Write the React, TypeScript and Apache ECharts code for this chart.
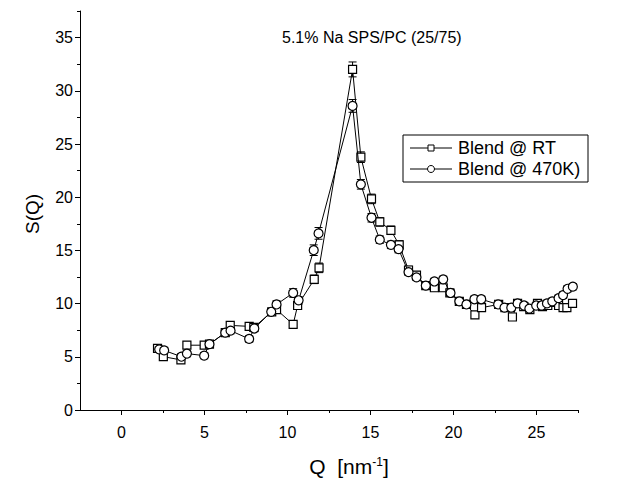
import React, { useEffect, useRef } from "react";
import * as echarts from "echarts";

const titleText = "5.1% Na SPS/PC (25/75)";
const seriesNames = ["Blend @ RT", "Blend @ 470K)"];
const yAxisTitle = "S(Q)";
const xAxisTitle = "{a|Q  [nm}{s|-1}{a|]}";

const xMajorTicks = [0, 5, 10, 15, 20, 25];
const xMinorTicks = [2.5, 7.5, 12.5, 17.5, 22.5, 27.5];
const yMajorTicks = [0, 5, 10, 15, 20, 25, 30, 35];
const yMinorTicks = [2.5, 7.5, 12.5, 17.5, 22.5, 27.5, 32.5, 37.5];

// Blend @ RT (squares)
const qRT = [2.17, 2.52, 3.58, 3.94, 4.98, 5.3, 6.25, 6.55, 7.69, 7.97, 9.05, 9.34, 10.34, 10.61, 11.61, 11.9, 13.92, 14.42, 15.06, 15.56, 16.23, 16.73, 17.29, 17.77, 18.33, 18.85, 19.38, 19.78, 20.35, 20.78, 21.29, 21.69, 22.72, 23.1, 23.55, 23.86, 24.23, 24.6, 25.06, 25.36, 25.68, 26.01, 26.33, 26.6, 26.83, 27.17];
const sRT = [5.79, 5.01, 4.71, 6.09, 6.09, 6.19, 7.27, 7.95, 7.86, 7.76, 9.23, 9.43, 8.05, 9.82, 12.28, 13.36, 32.01, 23.76, 19.84, 17.68, 16.89, 15.52, 13.16, 12.67, 11.69, 11.49, 11.49, 11.0, 10.21, 9.92, 8.94, 9.62, 9.92, 9.62, 8.74, 10.02, 9.72, 9.43, 10.02, 9.72, 9.82, 10.11, 9.82, 9.62, 9.62, 10.02];
const eRT = [0.3, 0.3, 0.3, 0.3, 0.3, 0.3, 0.3, 0.3, 0.3, 0.3, 0.3, 0.3, 0.3, 0.35, 0.4, 0.45, 0.7, 0.5, 0.45, 0.4, 0.4, 0.4, 0.35, 0.3, 0.3, 0.3, 0.3, 0.3, 0.3, 0.3, 0.3, 0.3, 0.3, 0.3, 0.3, 0.3, 0.3, 0.3, 0.3, 0.3, 0.3, 0.3, 0.3, 0.3, 0.3, 0.3];

// Blend @ 470K) (circles)
const qHT = [2.27, 2.57, 3.61, 3.94, 4.98, 5.3, 6.25, 6.57, 7.69, 8.0, 9.02, 9.34, 10.34, 10.67, 11.58, 11.87, 13.92, 14.42, 15.06, 15.56, 16.23, 16.69, 17.29, 17.77, 18.33, 18.85, 19.38, 19.82, 20.35, 20.78, 21.26, 21.67, 22.69, 23.07, 23.48, 23.86, 24.25, 24.57, 24.98, 25.31, 25.63, 25.95, 26.33, 26.6, 26.87, 27.19];
const sHT = [5.7, 5.6, 5.01, 5.3, 5.11, 6.19, 7.27, 7.46, 6.68, 7.66, 9.23, 9.92, 11.0, 10.31, 15.02, 16.6, 28.58, 21.21, 18.07, 16.01, 15.52, 15.12, 12.96, 12.47, 11.69, 12.08, 12.28, 11.0, 10.21, 9.92, 10.41, 10.41, 9.92, 9.62, 9.62, 10.02, 9.82, 9.53, 9.82, 9.82, 10.02, 10.21, 10.51, 10.8, 11.39, 11.59];
const eHT = [0.3, 0.3, 0.3, 0.3, 0.3, 0.3, 0.3, 0.3, 0.3, 0.3, 0.3, 0.35, 0.4, 0.35, 0.5, 0.55, 0.6, 0.45, 0.4, 0.35, 0.35, 0.35, 0.3, 0.3, 0.3, 0.3, 0.3, 0.3, 0.3, 0.3, 0.3, 0.3, 0.3, 0.3, 0.3, 0.3, 0.3, 0.3, 0.3, 0.3, 0.3, 0.3, 0.3, 0.3, 0.3, 0.3];

const FONT = "'Liberation Sans', Arial, sans-serif";

function errorRender(params: any, api: any) {
  const x = api.value(0);
  const y = api.value(1);
  const e = api.value(2);
  const p1 = api.coord([x, y + e]);
  const p2 = api.coord([x, y - e]);
  const w = 4;
  const st = { stroke: "#000", lineWidth: 1 };
  return {
    type: "group",
    children: [
      { type: "line", shape: { x1: p1[0], y1: p1[1], x2: p2[0], y2: p2[1] }, style: st },
      { type: "line", shape: { x1: p1[0] - w, y1: p1[1], x2: p1[0] + w, y2: p1[1] }, style: st },
      { type: "line", shape: { x1: p2[0] - w, y1: p2[1], x2: p2[0] + w, y2: p2[1] }, style: st },
    ],
  };
}

export default function App() {
  const ref = useRef<HTMLDivElement>(null);
  useEffect(() => {
    if (!ref.current) return;
    const chart = echarts.init(ref.current, null, { renderer: "svg" });
    const axisCommon = {
      type: "value",
      axisLine: { show: true, onZero: false, lineStyle: { color: "#000", width: 1 } },
      splitLine: { show: false },
    };
    const option: any = {
      animation: false,
      backgroundColor: "#fff",
      title: {
        text: titleText,
        left: 277,
        top: 24,
        textStyle: { fontFamily: FONT, fontSize: 16, fontWeight: "normal", color: "#000" },
      },
      grid: { left: 80, right: 46, top: 11, bottom: 72 },
      xAxis: [
        {
          ...axisCommon,
          min: -2.5,
          max: 27.5,
          axisTick: { show: true, customValues: xMajorTicks, length: 5, lineStyle: { color: "#000" } },
          axisLabel: { customValues: xMajorTicks, fontFamily: FONT, fontSize: 16, color: "#000", margin: 14 },
        },
        {
          ...axisCommon,
          min: -2.5,
          max: 27.5,
          position: "bottom",
          axisLine: { show: false, onZero: false },
          axisTick: { show: true, customValues: xMinorTicks, length: 3, lineStyle: { color: "#000" } },
          axisLabel: { show: false },
        },
      ],
      yAxis: [
        {
          ...axisCommon,
          min: 0,
          max: 37.5,
          axisTick: { show: true, customValues: yMajorTicks, length: 5, lineStyle: { color: "#000" } },
          axisLabel: { customValues: yMajorTicks, fontFamily: FONT, fontSize: 16, color: "#000", margin: 7 },
        },
        {
          ...axisCommon,
          min: 0,
          max: 37.5,
          position: "left",
          axisLine: { show: false, onZero: false },
          axisTick: { show: true, customValues: yMinorTicks, length: 3, lineStyle: { color: "#000" } },
          axisLabel: { show: false },
        },
      ],
      graphic: [
        {
          type: "text",
          x: 32,
          y: 214,
          rotation: Math.PI / 2,
          style: { text: yAxisTitle, fontFamily: FONT, fontSize: 19, fill: "#000", align: "center", verticalAlign: "middle" },
        },
        {
          type: "text",
          x: 349,
          y: 466,
          style: {
            text: xAxisTitle,
            align: "center",
            verticalAlign: "middle",
            rich: {
              a: { fontFamily: FONT, fontSize: 21, fill: "#000", verticalAlign: "bottom" },
              s: { fontFamily: FONT, fontSize: 12, fill: "#000", verticalAlign: "top" },
            },
          },
        },
        {
          type: "group",
          children: [
            { type: "rect", shape: { x: 403, y: 135, width: 185, height: 47 }, style: { fill: "#fff", stroke: "#000", lineWidth: 1 } },
            { type: "line", shape: { x1: 410, y1: 148, x2: 452, y2: 148 }, style: { stroke: "#000", lineWidth: 1 } },
            { type: "rect", shape: { x: 428, y: 145, width: 6, height: 6 }, style: { fill: "#fff", stroke: "#000", lineWidth: 1 } },
            { type: "text", x: 458, y: 148, style: { text: seriesNames[0], fontFamily: FONT, fontSize: 18, fill: "#000", verticalAlign: "middle" } },
            { type: "line", shape: { x1: 410, y1: 169, x2: 452, y2: 169 }, style: { stroke: "#000", lineWidth: 1 } },
            { type: "circle", shape: { cx: 431, cy: 169, r: 3.5 }, style: { fill: "#fff", stroke: "#000", lineWidth: 1 } },
            { type: "text", x: 458, y: 169, style: { text: seriesNames[1], fontFamily: FONT, fontSize: 18, fill: "#000", verticalAlign: "middle" } },
          ],
        },
      ],
      series: [
        {
          type: "custom",
          name: seriesNames[0] + " err",
          xAxisIndex: 0,
          yAxisIndex: 0,
          renderItem: errorRender,
          encode: { x: 0, y: 1 },
          data: qRT.map((q, i) => [q, sRT[i], eRT[i]]),
          z: 1,
        },
        {
          type: "custom",
          name: seriesNames[1] + " err",
          xAxisIndex: 0,
          yAxisIndex: 0,
          renderItem: errorRender,
          encode: { x: 0, y: 1 },
          data: qHT.map((q, i) => [q, sHT[i], eHT[i]]),
          z: 1,
        },
        {
          type: "line",
          name: seriesNames[0],
          xAxisIndex: 0,
          yAxisIndex: 0,
          data: qRT.map((q, i) => [q, sRT[i]]),
          symbol: "rect",
          symbolSize: 8,
          showAllSymbol: true,
          lineStyle: { color: "#000", width: 1 },
          itemStyle: { color: "#fff", borderColor: "#000", borderWidth: 1.2 },
          z: 3,
        },
        {
          type: "line",
          name: seriesNames[1],
          xAxisIndex: 0,
          yAxisIndex: 0,
          data: qHT.map((q, i) => [q, sHT[i]]),
          symbol: "circle",
          symbolSize: 9,
          showAllSymbol: true,
          lineStyle: { color: "#000", width: 1 },
          itemStyle: { color: "#fff", borderColor: "#000", borderWidth: 1.2 },
          z: 4,
        },
      ],
    };
    chart.setOption(option);
    return () => chart.dispose();
  }, []);
  return <div ref={ref} style={{ position: "fixed", left: 0, top: 0, width: 624, height: 482 }} />;
}
